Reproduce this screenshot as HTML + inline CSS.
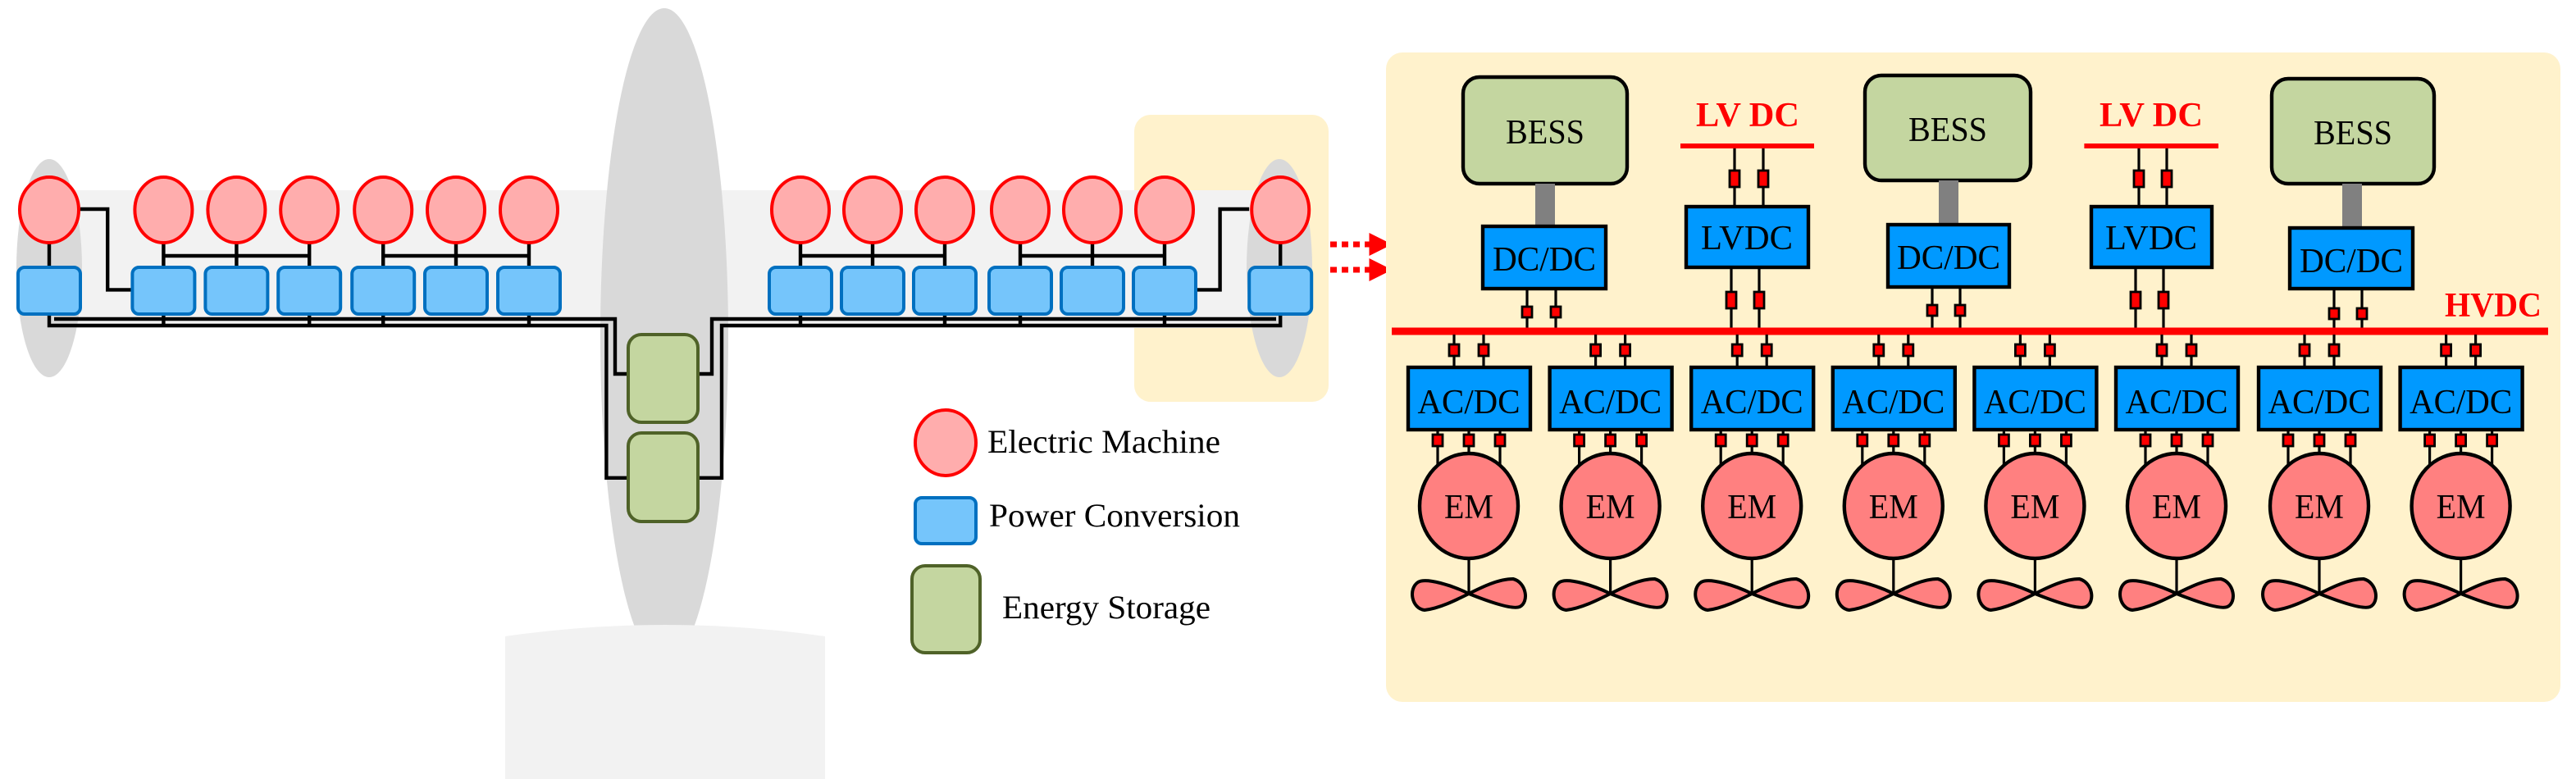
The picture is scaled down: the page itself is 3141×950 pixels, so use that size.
<!DOCTYPE html>
<html><head><meta charset="utf-8">
<style>html,body{margin:0;padding:0;background:#fff;}svg{display:block;font-family:"Liberation Serif",serif;}</style>
</head><body>
<svg width="3141" height="950" viewBox="0 0 1570.5 475" xmlns="http://www.w3.org/2000/svg">
<defs>
<marker id="ah" markerWidth="4" markerHeight="4" refX="1.5" refY="2" orient="auto" markerUnits="strokeWidth"><path d="M0,0 L4,2 L0,4 Z" fill="#ff0000"/></marker>
</defs>
<rect x="691.5" y="70" width="118.5" height="175" rx="10" fill="#fff2cc"/>
<rect x="30" y="116" width="740" height="84" fill="#f2f2f2"/>
<ellipse cx="30" cy="163.5" rx="20" ry="66.5" fill="#d9d9d9"/>
<ellipse cx="780" cy="163.5" rx="20" ry="66.5" fill="#d9d9d9"/>
<ellipse cx="405" cy="205" rx="39" ry="200" fill="#d9d9d9"/>
<path d="M308,388 Q405,374 503,388 L503,475 L308,475 Z" fill="#f2f2f2"/>

<g stroke="#000" stroke-width="2.2" fill="none">
<path d="M30,148 V163 M99.7,148 V163 M144.2,148 V163 M188.6,148 V163 M233.6,148 V163 M278,148 V163 M322.5,148 V163"/>
<path d="M488,148 V163 M532,148 V163 M576,148 V163 M622,148 V163 M666,148 V163 M710,148 V163 M780.6,148 V163"/>
<path d="M99.7,156 H188.6 M233.6,156 H322.5 M488,156 H576 M622,156 H710"/>
<path d="M49,127.5 H65.6 V176.7 H81 M729.7,176.7 H743.8 V127.5 H761.6"/>
<path d="M33,194.5 H375 V228 H384"/>
<path d="M30,191 V198.5 H369.7 V291.4 H384"/>
<path d="M425,228 H434 V194.5 H778"/>
<path d="M425,291.4 H440 V198.5 H780.6 V191"/>
<path d="M99.7,191 V198.5 M188.6,191 V198.5 M233.6,191 V198.5 M322.5,191 V198.5 M488,191 V198.5 M576,191 V198.5 M622,191 V198.5 M710,191 V198.5"/>
</g>

<g fill="#ffadad" stroke="#ff0000" stroke-width="2">
<ellipse cx="30" cy="128" rx="18" ry="20"/>
<ellipse cx="99.7" cy="128" rx="17.5" ry="20"/>
<ellipse cx="144.2" cy="128" rx="17.5" ry="20"/>
<ellipse cx="188.6" cy="128" rx="17.5" ry="20"/>
<ellipse cx="233.6" cy="128" rx="17.5" ry="20"/>
<ellipse cx="278" cy="128" rx="17.5" ry="20"/>
<ellipse cx="322.5" cy="128" rx="17.5" ry="20"/>
<ellipse cx="488" cy="128" rx="17.5" ry="20"/>
<ellipse cx="532" cy="128" rx="17.5" ry="20"/>
<ellipse cx="576" cy="128" rx="17.5" ry="20"/>
<ellipse cx="622" cy="128" rx="17.5" ry="20"/>
<ellipse cx="666" cy="128" rx="17.5" ry="20"/>
<ellipse cx="710" cy="128" rx="17.5" ry="20"/>
<ellipse cx="780.6" cy="128" rx="17.5" ry="20"/>
<ellipse cx="576.5" cy="270" rx="18.5" ry="20"/>
</g>
<g fill="#75c5fb" stroke="#0070c0" stroke-width="2">
<rect x="11" y="163" width="38" height="28.5" rx="4"/>
<rect x="80.7" y="163" width="38" height="28.5" rx="4"/>
<rect x="125.2" y="163" width="38" height="28.5" rx="4"/>
<rect x="169.6" y="163" width="38" height="28.5" rx="4"/>
<rect x="214.6" y="163" width="38" height="28.5" rx="4"/>
<rect x="259" y="163" width="38" height="28.5" rx="4"/>
<rect x="303.5" y="163" width="38" height="28.5" rx="4"/>
<rect x="469" y="163" width="38" height="28.5" rx="4"/>
<rect x="513" y="163" width="38" height="28.5" rx="4"/>
<rect x="557" y="163" width="38" height="28.5" rx="4"/>
<rect x="603" y="163" width="38" height="28.5" rx="4"/>
<rect x="647" y="163" width="38" height="28.5" rx="4"/>
<rect x="691" y="163" width="38" height="28.5" rx="4"/>
<rect x="761.6" y="163" width="38" height="28.5" rx="4"/>
<rect x="558" y="303.5" width="37" height="28" rx="4"/>
</g>
<g fill="#c4d6a0" stroke="#4f6228" stroke-width="2">
<rect x="383" y="204" width="42.5" height="53.5" rx="8"/>
<rect x="383" y="264" width="42.5" height="54" rx="8"/>
<rect x="556" y="345" width="41.5" height="53" rx="8"/>
</g>
<g font-size="20" fill="#000">
<text x="602" y="276" textLength="142" lengthAdjust="spacingAndGlyphs">Electric Machine</text>
<text x="603" y="321" textLength="153" lengthAdjust="spacingAndGlyphs">Power Conversion</text>
<text x="611" y="377" textLength="127" lengthAdjust="spacingAndGlyphs">Energy Storage</text>
</g>
<g stroke="#ff0000" stroke-width="3.5" stroke-dasharray="4,3" fill="none">
<path d="M811,149 H840" marker-end="url(#ah)"/>
<path d="M811,164.5 H840" marker-end="url(#ah)"/>
</g>

<rect x="845" y="32" width="716" height="396" rx="10" fill="#fff2cc"/>
<g stroke="#000" stroke-width="2.2">
<rect x="892" y="47" width="100" height="65" rx="10" fill="#c4d6a0"/>
<rect x="1137" y="46" width="101" height="64" rx="10" fill="#c4d6a0"/>
<rect x="1385" y="48" width="99" height="64" rx="10" fill="#c4d6a0"/>
<rect x="936" y="112" width="12" height="26" fill="#808080" stroke="none"/>
<rect x="1182" y="110" width="12" height="27" fill="#808080" stroke="none"/>
<rect x="1428" y="112" width="12" height="27" fill="#808080" stroke="none"/>
<rect x="904" y="138" width="75" height="38" fill="#0099ff"/>
<rect x="1151" y="137" width="74" height="38" fill="#0099ff"/>
<rect x="1396" y="139" width="75" height="37" fill="#0099ff"/>
<rect x="1028" y="126" width="74.5" height="37" fill="#0099ff"/>
<rect x="1275" y="126" width="73.5" height="37" fill="#0099ff"/>
</g>
<g stroke="#000" stroke-width="1.6">
<path d="M931,176 V202 M948.5,176 V202 M1178,175 V202 M1195,175 V202 M1423,176 V202 M1440,176 V202"/>
<path d="M1057.5,89 V126 M1075,89 V126 M1055.5,163 V202 M1072.5,163 V202"/>
<path d="M1304,89 V126 M1321,89 V126 M1302,163 V202 M1319,163 V202"/>
</g>
<g fill="#ff0000" stroke="#000" stroke-width="1.4">
<rect x="928" y="187" width="6" height="6.5"/><rect x="945.5" y="187" width="6" height="6.5"/>
<rect x="1175" y="186" width="6" height="6.5"/><rect x="1192" y="186" width="6" height="6.5"/>
<rect x="1420" y="188" width="6" height="6.5"/><rect x="1437" y="188" width="6" height="6.5"/>
<rect x="1054.5" y="104" width="6" height="10"/><rect x="1072" y="104" width="6" height="10"/>
<rect x="1052.5" y="178" width="6" height="10"/><rect x="1069.5" y="178" width="6" height="10"/>
<rect x="1301" y="104" width="6" height="10"/><rect x="1318" y="104" width="6" height="10"/>
<rect x="1299" y="178" width="6" height="10"/><rect x="1316" y="178" width="6" height="10"/>
</g>
<g stroke="#ff0000" stroke-width="3">
<path d="M1024.5,89 H1106 M1270.7,89 H1352.5"/>
</g>
<path d="M848.5,202 H1553.5" stroke="#ff0000" stroke-width="4.5"/>
<g font-size="21" fill="#000" text-anchor="middle">
<text x="942" y="87.5" textLength="48" lengthAdjust="spacingAndGlyphs">BESS</text>
<text x="1187.5" y="86" textLength="48" lengthAdjust="spacingAndGlyphs">BESS</text>
<text x="1434.5" y="88" textLength="48" lengthAdjust="spacingAndGlyphs">BESS</text>
<text x="941.5" y="165" textLength="63" lengthAdjust="spacingAndGlyphs">DC/DC</text>
<text x="1188" y="164" textLength="63" lengthAdjust="spacingAndGlyphs">DC/DC</text>
<text x="1433.5" y="166" textLength="63" lengthAdjust="spacingAndGlyphs">DC/DC</text>
<text x="1065" y="152" textLength="56" lengthAdjust="spacingAndGlyphs">LVDC</text>
<text x="1311.5" y="152" textLength="56" lengthAdjust="spacingAndGlyphs">LVDC</text>
</g>
<g font-size="21" font-weight="bold" fill="#ff0000" text-anchor="middle">
<text x="1065.5" y="77" textLength="63" lengthAdjust="spacingAndGlyphs">LV DC</text>
<text x="1311.5" y="77" textLength="63" lengthAdjust="spacingAndGlyphs">LV DC</text>
<text x="1520" y="193" textLength="59" lengthAdjust="spacingAndGlyphs">HVDC</text>
</g>

<g>
<g transform="translate(895.5,0)">
<path d="M-9,204 V224 M9,204 V224 M-19,262 V292 M0,262 V292 M19,262 V292 M0,340 V362" stroke="#000" stroke-width="1.6"/>
<g fill="#ff0000" stroke="#000" stroke-width="1.4"><rect x="-12" y="210" width="6" height="7"/><rect x="6" y="210" width="6" height="7"/><rect x="-22" y="265" width="6" height="7"/><rect x="-3" y="265" width="6" height="7"/><rect x="16" y="265" width="6" height="7"/></g>
<rect x="-37" y="224" width="74.5" height="38" fill="#0099ff" stroke="#000" stroke-width="2.2"/>
<ellipse cx="0" cy="308.5" rx="30" ry="32" fill="#ff8080" stroke="#000" stroke-width="2.2"/>
<path d="M0,362 C-10,357 -26,352 -31,355 C-37,359 -35,371 -27,372 C-18,371 -8,366 0,362 C8,358 18,353 27,353 C35,355 37,367 31,370 C26,372 10,366 0,362 Z" fill="#ff8080" stroke="#000" stroke-width="2"/>
<text x="0" y="252" font-size="21" text-anchor="middle" textLength="62.5" lengthAdjust="spacingAndGlyphs">AC/DC</text>
<text x="0" y="316" font-size="21" text-anchor="middle" textLength="30" lengthAdjust="spacingAndGlyphs">EM</text>
</g>
<g transform="translate(981.8,0)">
<path d="M-9,204 V224 M9,204 V224 M-19,262 V292 M0,262 V292 M19,262 V292 M0,340 V362" stroke="#000" stroke-width="1.6"/>
<g fill="#ff0000" stroke="#000" stroke-width="1.4"><rect x="-12" y="210" width="6" height="7"/><rect x="6" y="210" width="6" height="7"/><rect x="-22" y="265" width="6" height="7"/><rect x="-3" y="265" width="6" height="7"/><rect x="16" y="265" width="6" height="7"/></g>
<rect x="-37" y="224" width="74.5" height="38" fill="#0099ff" stroke="#000" stroke-width="2.2"/>
<ellipse cx="0" cy="308.5" rx="30" ry="32" fill="#ff8080" stroke="#000" stroke-width="2.2"/>
<path d="M0,362 C-10,357 -26,352 -31,355 C-37,359 -35,371 -27,372 C-18,371 -8,366 0,362 C8,358 18,353 27,353 C35,355 37,367 31,370 C26,372 10,366 0,362 Z" fill="#ff8080" stroke="#000" stroke-width="2"/>
<text x="0" y="252" font-size="21" text-anchor="middle" textLength="62.5" lengthAdjust="spacingAndGlyphs">AC/DC</text>
<text x="0" y="316" font-size="21" text-anchor="middle" textLength="30" lengthAdjust="spacingAndGlyphs">EM</text>
</g>
<g transform="translate(1068.1,0)">
<path d="M-9,204 V224 M9,204 V224 M-19,262 V292 M0,262 V292 M19,262 V292 M0,340 V362" stroke="#000" stroke-width="1.6"/>
<g fill="#ff0000" stroke="#000" stroke-width="1.4"><rect x="-12" y="210" width="6" height="7"/><rect x="6" y="210" width="6" height="7"/><rect x="-22" y="265" width="6" height="7"/><rect x="-3" y="265" width="6" height="7"/><rect x="16" y="265" width="6" height="7"/></g>
<rect x="-37" y="224" width="74.5" height="38" fill="#0099ff" stroke="#000" stroke-width="2.2"/>
<ellipse cx="0" cy="308.5" rx="30" ry="32" fill="#ff8080" stroke="#000" stroke-width="2.2"/>
<path d="M0,362 C-10,357 -26,352 -31,355 C-37,359 -35,371 -27,372 C-18,371 -8,366 0,362 C8,358 18,353 27,353 C35,355 37,367 31,370 C26,372 10,366 0,362 Z" fill="#ff8080" stroke="#000" stroke-width="2"/>
<text x="0" y="252" font-size="21" text-anchor="middle" textLength="62.5" lengthAdjust="spacingAndGlyphs">AC/DC</text>
<text x="0" y="316" font-size="21" text-anchor="middle" textLength="30" lengthAdjust="spacingAndGlyphs">EM</text>
</g>
<g transform="translate(1154.4,0)">
<path d="M-9,204 V224 M9,204 V224 M-19,262 V292 M0,262 V292 M19,262 V292 M0,340 V362" stroke="#000" stroke-width="1.6"/>
<g fill="#ff0000" stroke="#000" stroke-width="1.4"><rect x="-12" y="210" width="6" height="7"/><rect x="6" y="210" width="6" height="7"/><rect x="-22" y="265" width="6" height="7"/><rect x="-3" y="265" width="6" height="7"/><rect x="16" y="265" width="6" height="7"/></g>
<rect x="-37" y="224" width="74.5" height="38" fill="#0099ff" stroke="#000" stroke-width="2.2"/>
<ellipse cx="0" cy="308.5" rx="30" ry="32" fill="#ff8080" stroke="#000" stroke-width="2.2"/>
<path d="M0,362 C-10,357 -26,352 -31,355 C-37,359 -35,371 -27,372 C-18,371 -8,366 0,362 C8,358 18,353 27,353 C35,355 37,367 31,370 C26,372 10,366 0,362 Z" fill="#ff8080" stroke="#000" stroke-width="2"/>
<text x="0" y="252" font-size="21" text-anchor="middle" textLength="62.5" lengthAdjust="spacingAndGlyphs">AC/DC</text>
<text x="0" y="316" font-size="21" text-anchor="middle" textLength="30" lengthAdjust="spacingAndGlyphs">EM</text>
</g>
<g transform="translate(1240.7,0)">
<path d="M-9,204 V224 M9,204 V224 M-19,262 V292 M0,262 V292 M19,262 V292 M0,340 V362" stroke="#000" stroke-width="1.6"/>
<g fill="#ff0000" stroke="#000" stroke-width="1.4"><rect x="-12" y="210" width="6" height="7"/><rect x="6" y="210" width="6" height="7"/><rect x="-22" y="265" width="6" height="7"/><rect x="-3" y="265" width="6" height="7"/><rect x="16" y="265" width="6" height="7"/></g>
<rect x="-37" y="224" width="74.5" height="38" fill="#0099ff" stroke="#000" stroke-width="2.2"/>
<ellipse cx="0" cy="308.5" rx="30" ry="32" fill="#ff8080" stroke="#000" stroke-width="2.2"/>
<path d="M0,362 C-10,357 -26,352 -31,355 C-37,359 -35,371 -27,372 C-18,371 -8,366 0,362 C8,358 18,353 27,353 C35,355 37,367 31,370 C26,372 10,366 0,362 Z" fill="#ff8080" stroke="#000" stroke-width="2"/>
<text x="0" y="252" font-size="21" text-anchor="middle" textLength="62.5" lengthAdjust="spacingAndGlyphs">AC/DC</text>
<text x="0" y="316" font-size="21" text-anchor="middle" textLength="30" lengthAdjust="spacingAndGlyphs">EM</text>
</g>
<g transform="translate(1327,0)">
<path d="M-9,204 V224 M9,204 V224 M-19,262 V292 M0,262 V292 M19,262 V292 M0,340 V362" stroke="#000" stroke-width="1.6"/>
<g fill="#ff0000" stroke="#000" stroke-width="1.4"><rect x="-12" y="210" width="6" height="7"/><rect x="6" y="210" width="6" height="7"/><rect x="-22" y="265" width="6" height="7"/><rect x="-3" y="265" width="6" height="7"/><rect x="16" y="265" width="6" height="7"/></g>
<rect x="-37" y="224" width="74.5" height="38" fill="#0099ff" stroke="#000" stroke-width="2.2"/>
<ellipse cx="0" cy="308.5" rx="30" ry="32" fill="#ff8080" stroke="#000" stroke-width="2.2"/>
<path d="M0,362 C-10,357 -26,352 -31,355 C-37,359 -35,371 -27,372 C-18,371 -8,366 0,362 C8,358 18,353 27,353 C35,355 37,367 31,370 C26,372 10,366 0,362 Z" fill="#ff8080" stroke="#000" stroke-width="2"/>
<text x="0" y="252" font-size="21" text-anchor="middle" textLength="62.5" lengthAdjust="spacingAndGlyphs">AC/DC</text>
<text x="0" y="316" font-size="21" text-anchor="middle" textLength="30" lengthAdjust="spacingAndGlyphs">EM</text>
</g>
<g transform="translate(1414,0)">
<path d="M-9,204 V224 M9,204 V224 M-19,262 V292 M0,262 V292 M19,262 V292 M0,340 V362" stroke="#000" stroke-width="1.6"/>
<g fill="#ff0000" stroke="#000" stroke-width="1.4"><rect x="-12" y="210" width="6" height="7"/><rect x="6" y="210" width="6" height="7"/><rect x="-22" y="265" width="6" height="7"/><rect x="-3" y="265" width="6" height="7"/><rect x="16" y="265" width="6" height="7"/></g>
<rect x="-37" y="224" width="74.5" height="38" fill="#0099ff" stroke="#000" stroke-width="2.2"/>
<ellipse cx="0" cy="308.5" rx="30" ry="32" fill="#ff8080" stroke="#000" stroke-width="2.2"/>
<path d="M0,362 C-10,357 -26,352 -31,355 C-37,359 -35,371 -27,372 C-18,371 -8,366 0,362 C8,358 18,353 27,353 C35,355 37,367 31,370 C26,372 10,366 0,362 Z" fill="#ff8080" stroke="#000" stroke-width="2"/>
<text x="0" y="252" font-size="21" text-anchor="middle" textLength="62.5" lengthAdjust="spacingAndGlyphs">AC/DC</text>
<text x="0" y="316" font-size="21" text-anchor="middle" textLength="30" lengthAdjust="spacingAndGlyphs">EM</text>
</g>
<g transform="translate(1500.3,0)">
<path d="M-9,204 V224 M9,204 V224 M-19,262 V292 M0,262 V292 M19,262 V292 M0,340 V362" stroke="#000" stroke-width="1.6"/>
<g fill="#ff0000" stroke="#000" stroke-width="1.4"><rect x="-12" y="210" width="6" height="7"/><rect x="6" y="210" width="6" height="7"/><rect x="-22" y="265" width="6" height="7"/><rect x="-3" y="265" width="6" height="7"/><rect x="16" y="265" width="6" height="7"/></g>
<rect x="-37" y="224" width="74.5" height="38" fill="#0099ff" stroke="#000" stroke-width="2.2"/>
<ellipse cx="0" cy="308.5" rx="30" ry="32" fill="#ff8080" stroke="#000" stroke-width="2.2"/>
<path d="M0,362 C-10,357 -26,352 -31,355 C-37,359 -35,371 -27,372 C-18,371 -8,366 0,362 C8,358 18,353 27,353 C35,355 37,367 31,370 C26,372 10,366 0,362 Z" fill="#ff8080" stroke="#000" stroke-width="2"/>
<text x="0" y="252" font-size="21" text-anchor="middle" textLength="62.5" lengthAdjust="spacingAndGlyphs">AC/DC</text>
<text x="0" y="316" font-size="21" text-anchor="middle" textLength="30" lengthAdjust="spacingAndGlyphs">EM</text>
</g>
</g>
</svg>
</body></html>
